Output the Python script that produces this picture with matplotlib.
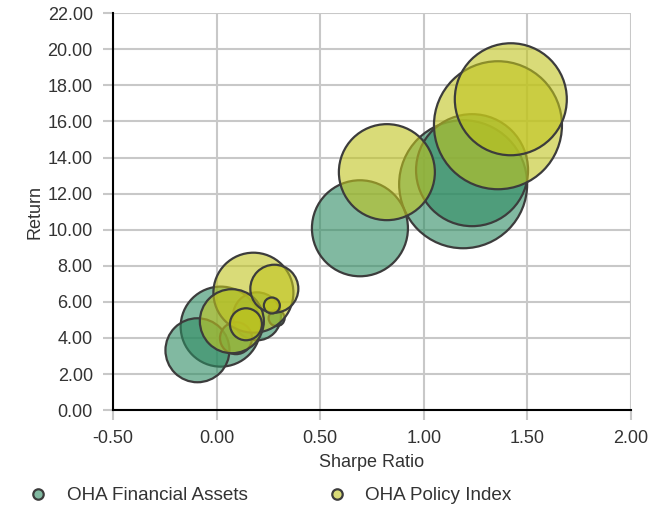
import numpy as np
import matplotlib
matplotlib.use("Agg")
import matplotlib.pyplot as plt
from matplotlib.colors import to_rgba
from matplotlib.lines import Line2D

plt.rcParams["font.family"] = ["Liberation Sans", "DejaVu Sans"]

# data: sharpe ratio, return, bubble size (radius rank)
FIN_SHARPE = [1.19, 1.233, 0.692, 0.02, -0.092, 0.195, 0.094, 0.29]
FIN_RETURN = [12.52, 13.30, 10.08, 4.63, 3.32, 5.20, 3.99, 5.10]
FIN_SIZE = [8, 7, 6, 5, 4, 3, 2, 1]

POL_SHARPE = [1.358, 1.42, 0.822, 0.178, 0.074, 0.279, 0.142, 0.267]
POL_RETURN = [15.79, 17.23, 13.19, 6.51, 4.93, 6.73, 4.76, 5.80]
POL_SIZE = [8, 7, 6, 5, 4, 3, 2, 1]

SERIES = [("OHA Financial Assets", FIN_SHARPE, FIN_RETURN, FIN_SIZE, "#2E8B62"),
          ("OHA Policy Index", POL_SHARPE, POL_RETURN, POL_SIZE, "#C0C41E")]

XTICKS = [-0.5, 0.0, 0.5, 1.0, 1.5, 2.0]
YTICKS = np.arange(0, 23, 2)
EDGE = "#3c3c3c"

fig = plt.figure(figsize=(6.72, 5.07), dpi=100)
ax = fig.add_axes([0.168, 0.191, 0.771, 0.783])

for name, xs, ys, sz, col in SERIES:
    # radius ~8 px per size step -> marker area in pt^2
    d_pt = np.array(sz) * 16 * 0.72
    ax.scatter(xs, ys, s=d_pt ** 2, facecolors=[to_rgba(col, 0.6)],
               edgecolors=EDGE, linewidths=1.6, zorder=3)

ax.set_xlim(-0.5, 2.0)
ax.set_ylim(0, 22)
ax.set_xticks(XTICKS, [f"{v:.2f}" for v in XTICKS])
ax.set_yticks(YTICKS, [f"{v:.2f}" for v in YTICKS])
ax.grid(color="#c8c8c8", lw=1.5, zorder=0)
ax.set_axisbelow(True)
for s in ("top", "right"):
    ax.spines[s].set_visible(False)
for s in ("left", "bottom"):
    ax.spines[s].set_color("black")
    ax.spines[s].set_linewidth(1.5)
    ax.spines[s].set_zorder(4)
ax.tick_params(labelsize=13, colors="#c8c8c8", labelcolor="#333333",
               length=7.5, width=1.5, pad=7)
ax.set_xlabel("Sharpe Ratio", fontsize=13, color="#333333", labelpad=5)
ax.set_ylabel("Return", fontsize=13, color="#333333", labelpad=3)

handles = [Line2D([], [], ls="none", marker="o", ms=7.5, mfc=to_rgba(col, 0.6),
                  mec=EDGE, mew=1.6, label=name) for name, _, _, _, col in SERIES]
fig.legend(handles=handles, loc="center left", bbox_to_anchor=(0.0284, 0.022), ncol=2,
           frameon=False, fontsize=13.6, handlelength=2.0, columnspacing=3.7,
           handletextpad=0.53, borderpad=0, borderaxespad=0, labelcolor="#333333")

fig.savefig("out.png", dpi=100)
